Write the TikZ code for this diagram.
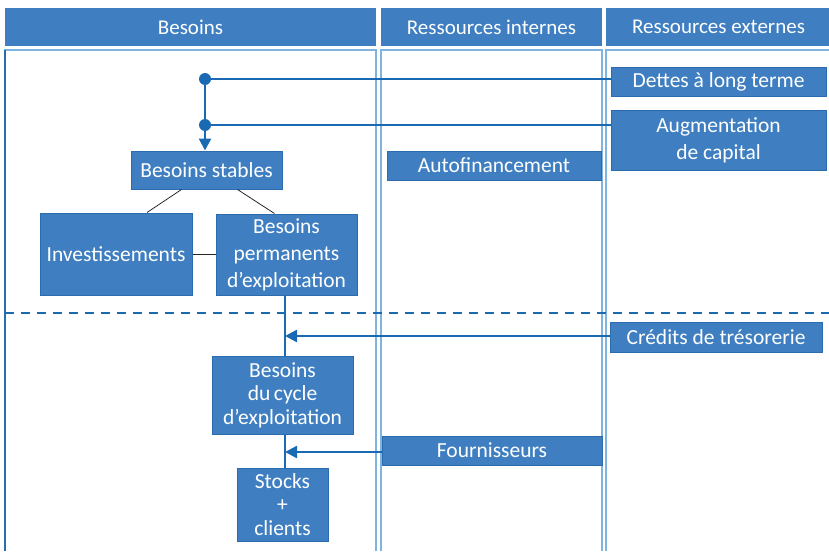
\documentclass[tikz,border=0pt]{standalone}
\usepackage{fontspec}
\setmainfont{Carlito}
\usepackage{tikz}
\usetikzlibrary{arrows.meta}

\definecolor{boxblue}{HTML}{3F7FC1}
\definecolor{boxedge}{HTML}{2B6CAE}
\definecolor{linkblue}{HTML}{1A69B3}
\definecolor{colblue}{HTML}{80B4E0}

\begin{document}
\begin{tikzpicture}[x=1pt, y=-1pt,
  box/.style={draw=boxedge, line width=1pt, fill=boxblue, text=white, align=center,
    inner sep=0pt, font=\fontsize{21.5}{27}\selectfont},
  tightbox/.style={box, font=\fontsize{21.5}{23.5}\selectfont},
  head/.style={fill=boxblue, text=white, inner sep=0pt, font=\fontsize{21}{25}\selectfont},
  colframe/.style={draw=colblue, line width=2pt},
  link/.style={draw=linkblue, line width=2.5pt},
  thinlink/.style={draw=linkblue, line width=1.4pt},
  tie/.style={draw=black!85, line width=0.8pt},
  tip/.style={-{Triangle[length=12pt, width=12pt]}}]
\useasboundingbox (0,0) rectangle (829,551);

% column headers
\node[head, minimum width=371pt, minimum height=38pt] (hbes) at (190.5,27) {Besoins};
\node[head, minimum width=221pt, minimum height=38pt] (hint) at (491.5,27) {Ressources internes};
\node[head, minimum width=225pt, minimum height=38pt] (hext) at (718.5,27) {Ressources externes};

% column frames, open at the bottom
\draw[colframe] (5,551) -- (5,50) -- (376,50) -- (376,551);
\draw[colframe] (381,551) -- (381,50) -- (602,50) -- (602,551);
\draw[colframe] (606,551) -- (606,50) -- (835,50);
\draw[draw=boxedge, line width=1.2pt] (5,50) -- (5,551);

% stable needs and their funding
\node[box, minimum width=215pt, minimum height=29pt] (dettes) at (718.5,81.5) {Dettes à long terme};
\node[box, minimum width=215pt, minimum height=60pt] (capital) at (718.5,140) {Augmentation\\de capital};
\node[box, minimum width=214pt, minimum height=29pt] (autofin) at (494,165.5) {Autofinancement};
\node[box, minimum width=151pt, minimum height=38pt] (stables) at (206.5,170) {Besoins stables};
\node[box, minimum width=152pt, minimum height=82pt] (invest) at (116,254) {Investissements};
\node[box, minimum width=141pt, minimum height=81pt] (bpe) at (286.5,254.5) {Besoins\\permanents\\d’exploitation};

\coordinate (j1) at (205,79);
\coordinate (j2) at (205,125);
\draw[link] (j1) -- (dettes.west |- j1);
\draw[link] (j2) -- (capital.west |- j2);
\draw[link, tip] (j1) -- (stables.north -| j1);
\fill[linkblue] (j1) circle (6pt) (j2) circle (6pt);

\draw[tie] ([xshift=-25pt]stables.south) -- ([xshift=31pt]invest.north);
\draw[tie] ([xshift=31pt]stables.south) -- ([xshift=-12pt]bpe.north);
\draw[tie] (invest.east) -- (bpe.west |- invest.east);

% short-term needs below the dashed split
\draw[linkblue, line width=2.5pt, dash pattern=on 9pt off 7pt] (5,313) -- (829,313);

\node[box, minimum width=212pt, minimum height=30pt] (credits) at (716,337) {Crédits de trésorerie};
\node[tightbox, minimum width=141pt, minimum height=78pt] (cycle) at (282.5,395) {Besoins\\du\,cycle\\d’exploitation};
\node[box, minimum width=220pt, minimum height=29pt] (fourn) at (492,450.5) {Fournisseurs};
\node[tightbox, minimum width=91pt, minimum height=73pt] (stocks) at (282.5,504.5) {Stocks\\+\\clients};

\coordinate (c1) at (285,336);
\coordinate (c2) at (285,452);
\draw[thinlink] (bpe.south -| c1) -- (cycle.north -| c1);
\draw[thinlink] (cycle.south -| c2) -- (stocks.north -| c2);
\draw[link, tip] (credits.west |- c1) -- (c1);
\draw[link, tip] (fourn.west |- c2) -- (c2);
\end{tikzpicture}
\end{document}
